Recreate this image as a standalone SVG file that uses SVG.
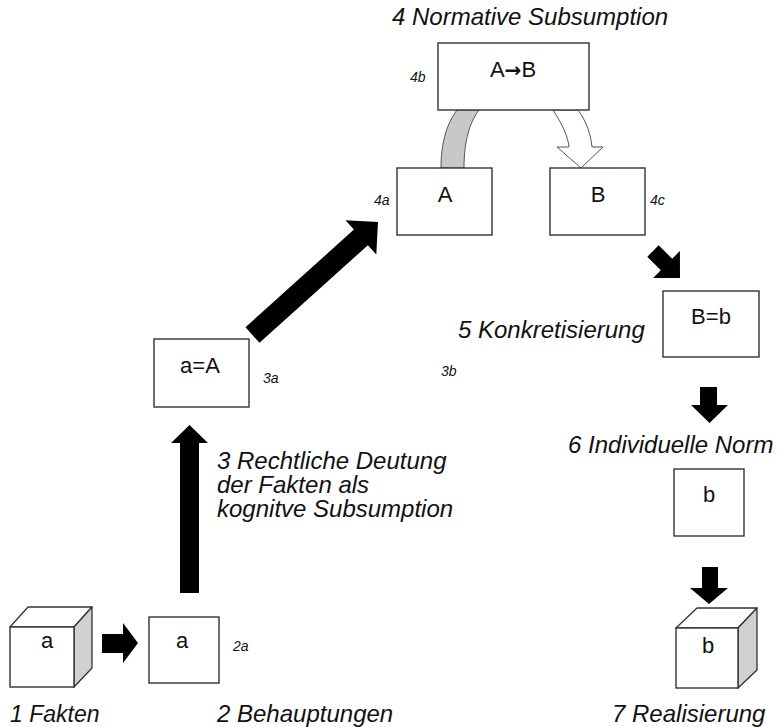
<svg xmlns="http://www.w3.org/2000/svg" width="778" height="727" viewBox="0 0 778 727">
<style>
.box{fill:#fff;stroke:#333;stroke-width:1.4}
.side{fill:#d0d0d0;stroke:#333;stroke-width:1.3;stroke-linejoin:round}
.top{fill:#fff;stroke:#333;stroke-width:1.3;stroke-linejoin:round}
.bt{font-family:"Liberation Sans",Arial,sans-serif;font-size:22px;text-anchor:middle;fill:#111}
.lbl{font-family:"Liberation Sans",Arial,sans-serif;font-style:italic;font-size:24px;fill:#111}
.sm{font-family:"Liberation Sans",Arial,sans-serif;font-style:italic;font-size:14px;fill:#111}
.blk{fill:#000}
</style>
<rect width="778" height="727" fill="#fff"/>
<text class="lbl" x="392" y="25">4 Normative Subsumption</text>
<g id="connectors">
<path d="M441,168 C441,140 448,122 457,110 L479,110 C470,122 464,140 464,168 Z" fill="#c8c8c8" stroke="#555" stroke-width="1"/>
<path d="M553,110 C562,124 568,136 569,147 L557,147 L581,168 L603,147 L592,147 C591,136 587,122 578,110 Z" fill="#fff" stroke="#555" stroke-width="1"/>
<polygon class="blk" points="102,634 123,634 123,623 138,643 123,663 123,653 102,653"/>
<polygon class="blk" points="180,593 180,443 171,443 189.5,425 208,443 199,443 199,593"/>
<polygon class="blk" points="245.5,327.2 353.9,229.6 345.5,220.3 378,222 376.3,254.5 367.9,245.2 259.5,342.8"/>
<polygon class="blk" points="658.7,245.3 672.2,258.8 679.9,251.1 680,278 653.1,277.9 660.8,270.2 647.3,256.7"/>
<polygon class="blk" points="700,387 717,387 717,405 728,405 709.5,423 691,405 700,405"/>
<polygon class="blk" points="702,567 718,567 718,588 728,588 709,604 690,588 702,588"/>
</g>
<g id="n1">
<polygon class="top" points="10,627 28,607 92,607 74,627"/>
<polygon class="side" points="74,627 92,607 92,668 74,687"/>
<rect class="box" x="10" y="627" width="64" height="60"/>
<text class="bt" x="47" y="648">a</text>
<text class="lbl" x="10" y="722" style="font-size:23px">1 Fakten</text>
</g>
<g id="n2">
<rect class="box" x="149" y="617" width="70" height="66"/>
<text class="bt" x="182" y="648">a</text>
<text class="sm" x="233" y="651">2a</text>
<text class="lbl" x="217" y="722">2 Behauptungen</text>
</g>
<g id="n3">
<rect class="box" x="154" y="339" width="95" height="68"/>
<text class="bt" x="200" y="373">a=A</text>
<text class="sm" x="263" y="383">3a</text>
<text class="sm" x="441" y="376">3b</text>
<text class="lbl" x="217" y="469">3 Rechtliche Deutung</text>
<text class="lbl" x="217" y="493">der Fakten als</text>
<text class="lbl" x="217" y="517">kognitve Subsumption</text>
</g>
<g id="n4a">
<rect class="box" x="397" y="168" width="95" height="67"/>
<text class="bt" x="445" y="202">A</text>
<text class="sm" x="374" y="205">4a</text>
</g>
<g id="n4b">
<rect class="box" x="438" y="43" width="151" height="67"/>
<text class="bt" x="513" y="77">A<tspan style="font-family:'DejaVu Sans',sans-serif;font-weight:bold;font-size:20px">→</tspan>B</text>
<text class="sm" x="410" y="82">4b</text>
</g>
<g id="n4c">
<rect class="box" x="550" y="168" width="95" height="67"/>
<text class="bt" x="598" y="202">B</text>
<text class="sm" x="650" y="205">4c</text>
</g>
<g id="n5">
<rect class="box" x="663" y="291" width="96" height="66"/>
<text class="bt" x="711" y="324">B=b</text>
<text class="lbl" x="458" y="338">5 Konkretisierung</text>
</g>
<g id="n6">
<rect class="box" x="674" y="469" width="70" height="67"/>
<text class="bt" x="709" y="502">b</text>
<text class="lbl" x="568" y="453">6 Individuelle Norm</text>
</g>
<g id="n7">
<polygon class="top" points="676,628 697,608 757,608 738,628"/>
<polygon class="side" points="738,628 757,608 757,670 738,688"/>
<rect class="box" x="676" y="628" width="62" height="60"/>
<text class="bt" x="708" y="653">b</text>
<text class="lbl" x="612" y="722">7 Realisierung</text>
</g>
</svg>
